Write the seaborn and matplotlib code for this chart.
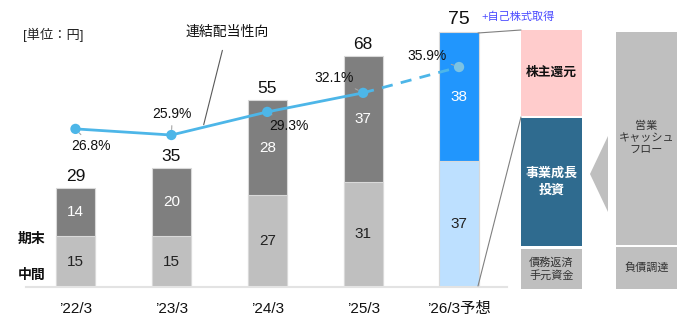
import numpy as np
import pandas as pd
import matplotlib
matplotlib.use("Agg")
import matplotlib.pyplot as plt
from matplotlib.patches import Rectangle, Polygon
from matplotlib.lines import Line2D
import seaborn as sns

# ---------------- data ----------------
categories = ["’22/3", "’23/3", "’24/3", "’25/3", "’26/3予想"]
interim = [15, 15, 27, 31, 37]          # 中間
final = [14, 20, 28, 37, 38]            # 期末
totals = [29, 35, 55, 68, 75]
payout = [26.8, 25.9, 29.3, 32.1, 35.9]  # 連結配当性向 (%)
payout_labels = ["26.8%", "25.9%", "29.3%", "32.1%", "35.9%"]

# ---------------- style ----------------
sns.set_theme(style="white")
plt.rcParams["font.family"] = ["Liberation Sans", "Noto Sans CJK JP"]

W, H = 688, 326
fig = plt.figure(figsize=(W / 100, H / 100), dpi=100)


def fx(px):
    return px / W


def fy(py):
    return 1 - py / H


ax = fig.add_axes([fx(26), 39 / H, 481 / W, 287 / H])

top_colors = ["#7f7f7f"] * 4 + ["#2196fd"]
bot_colors = ["#bfbfbf"] * 4 + ["#bde0ff"]

df = pd.DataFrame({"period": categories, "total": totals, "interim": interim})

sns.barplot(data=df, x="period", y="total", hue="period", palette=top_colors,
            legend=False, width=0.41, saturation=1, ax=ax,
            edgecolor="#d9d9d9", linewidth=0.8)
sns.barplot(data=df, x="period", y="interim", hue="period", palette=bot_colors,
            legend=False, width=0.41, saturation=1, ax=ax,
            edgecolor="#d9d9d9", linewidth=0.8)

ax.set_ylim(0, 287 / 3.4)
ax.set_xlim(-0.516, 4.5)
ax.set_xlabel("")
ax.set_ylabel("")
ax.set_yticks([])
for s in ["top", "left", "right"]:
    ax.spines[s].set_visible(False)
ax.spines["bottom"].set_color("#e3e3e3")
ax.spines["bottom"].set_linewidth(1.5)
ax.tick_params(axis="x", length=0, pad=11, labelsize=11, labelcolor="#111111")
ax.set_xticks(range(len(categories)))
ax.set_xticklabels(categories)

# segment labels
for i in range(len(categories)):
    ax.text(i, interim[i] / 2, str(interim[i]), ha="center", va="center",
            fontsize=11, color="#222222")
    ax.text(i, interim[i] + final[i] / 2, str(final[i]), ha="center", va="center",
            fontsize=11, color="white")
    ax.annotate(str(totals[i]), xy=(i, totals[i]), xytext=(0, 3),
                textcoords="offset points", ha="center", va="bottom",
                fontsize=14 if i == 4 else 12.5, color="#111111")

# ---------------- payout ratio line ----------------
ax2 = ax.twinx()
ax2.set_ylim(3.55, 3.55 + 287 / 6.8)
xs = np.arange(len(categories))
line_c = "#4db6e8"
sns.lineplot(x=xs[:4], y=payout[:4], ax=ax2, color=line_c, linewidth=2)
sns.lineplot(x=xs[3:], y=payout[3:], ax=ax2, color=line_c, linewidth=2,
             linestyle=(0, (4, 3)))
sns.scatterplot(x=xs[:4], y=payout[:4], ax=ax2, color=line_c, s=55,
                edgecolor="none", zorder=5)
sns.scatterplot(x=xs[4:], y=payout[4:], ax=ax2, color="#7cc3e3", s=55,
                edgecolor="none", zorder=5)
ax2.set_yticks([])
ax2.set_ylabel("")
for s in ["top", "left", "right", "bottom"]:
    ax2.spines[s].set_visible(False)
ax.set_xlim(-0.516, 4.5)

offsets = [(16, -17), (1, 21), (22, -14), (-29, 15), (-32, 11)]
for i, (lab, off) in enumerate(zip(payout_labels, offsets)):
    ax2.annotate(lab, xy=(i, payout[i]), xytext=off, textcoords="offset pixels",
                 ha="center", va="center", fontsize=10, color="#111111",
                 arrowprops=dict(arrowstyle="-", color="#a6a6a6", lw=0.8,
                                 shrinkA=1, shrinkB=4))

# 連結配当性向 callout
xp = 1.33
ax2.annotate("連結配当性向", xy=(xp, np.interp(xp, xs, payout)),
             xytext=(fx(227), fy(32)), textcoords="figure fraction",
             ha="center", va="center", fontsize=10, color="#111111",
             arrowprops=dict(arrowstyle="-", color="#595959", lw=0.8,
                             shrinkA=6, shrinkB=2))

fig.text(fx(23), fy(35), "[単位：円]", ha="left", va="center", fontsize=9.5,
         color="#222222")
fig.text(fx(32), fy(239), "期末", ha="center", va="center", fontsize=10,
         fontweight="bold", color="#111111")
fig.text(fx(32), fy(275), "中間", ha="center", va="center", fontsize=10,
         fontweight="bold", color="#111111")
fig.text(fx(481), fy(17), "+自己株式取得", ha="left", va="center", fontsize=8,
         color="#4a4aff")

# ---------------- right panel ----------------
def box(l, t, r, b, color):
    fig.add_artist(Rectangle((fx(l), fy(b)), fx(r) - fx(l), fy(t) - fy(b),
                             transform=fig.transFigure, facecolor=color,
                             edgecolor="none", zorder=1))


box(521, 30, 582, 116, "#ffcccc")
box(521, 118, 582, 246, "#2f6b8f")
box(521, 249, 582, 289, "#bfbfbf")
box(616, 32, 677, 245, "#bfbfbf")
box(616, 247, 677, 289, "#bfbfbf")
fig.add_artist(Polygon([(fx(590), fy(174)), (fx(608), fy(136)), (fx(608), fy(212))],
                       closed=True, transform=fig.transFigure,
                       facecolor="#bfbfbf", edgecolor="none"))

fig.text(fx(551.5), fy(73), "株主還元", ha="center", va="center", fontsize=9.2,
         fontweight="bold", color="#111111")
fig.text(fx(551.5), fy(182), "事業成長\n投資", ha="center", va="center",
         fontsize=9.4, fontweight="bold", color="white", linespacing=1.5)
fig.text(fx(551.5), fy(269), "債務返済\n手元資金", ha="center", va="center",
         fontsize=8, color="#333333", linespacing=1.3)
fig.text(fx(646.5), fy(138), "営業\nキャッシュ\nフロー", ha="center", va="center",
         fontsize=8, color="#333333", linespacing=1.3)
fig.text(fx(646.5), fy(268), "負債調達", ha="center", va="center",
         fontsize=8, color="#333333")

for (x0, y0, x1, y1) in [(478, 33, 521, 30), (478, 286, 521, 117)]:
    fig.add_artist(Line2D([fx(x0), fx(x1)], [fy(y0), fy(y1)],
                          transform=fig.transFigure, color="#808080", lw=0.8))

fig.savefig("out.png", dpi=100)
